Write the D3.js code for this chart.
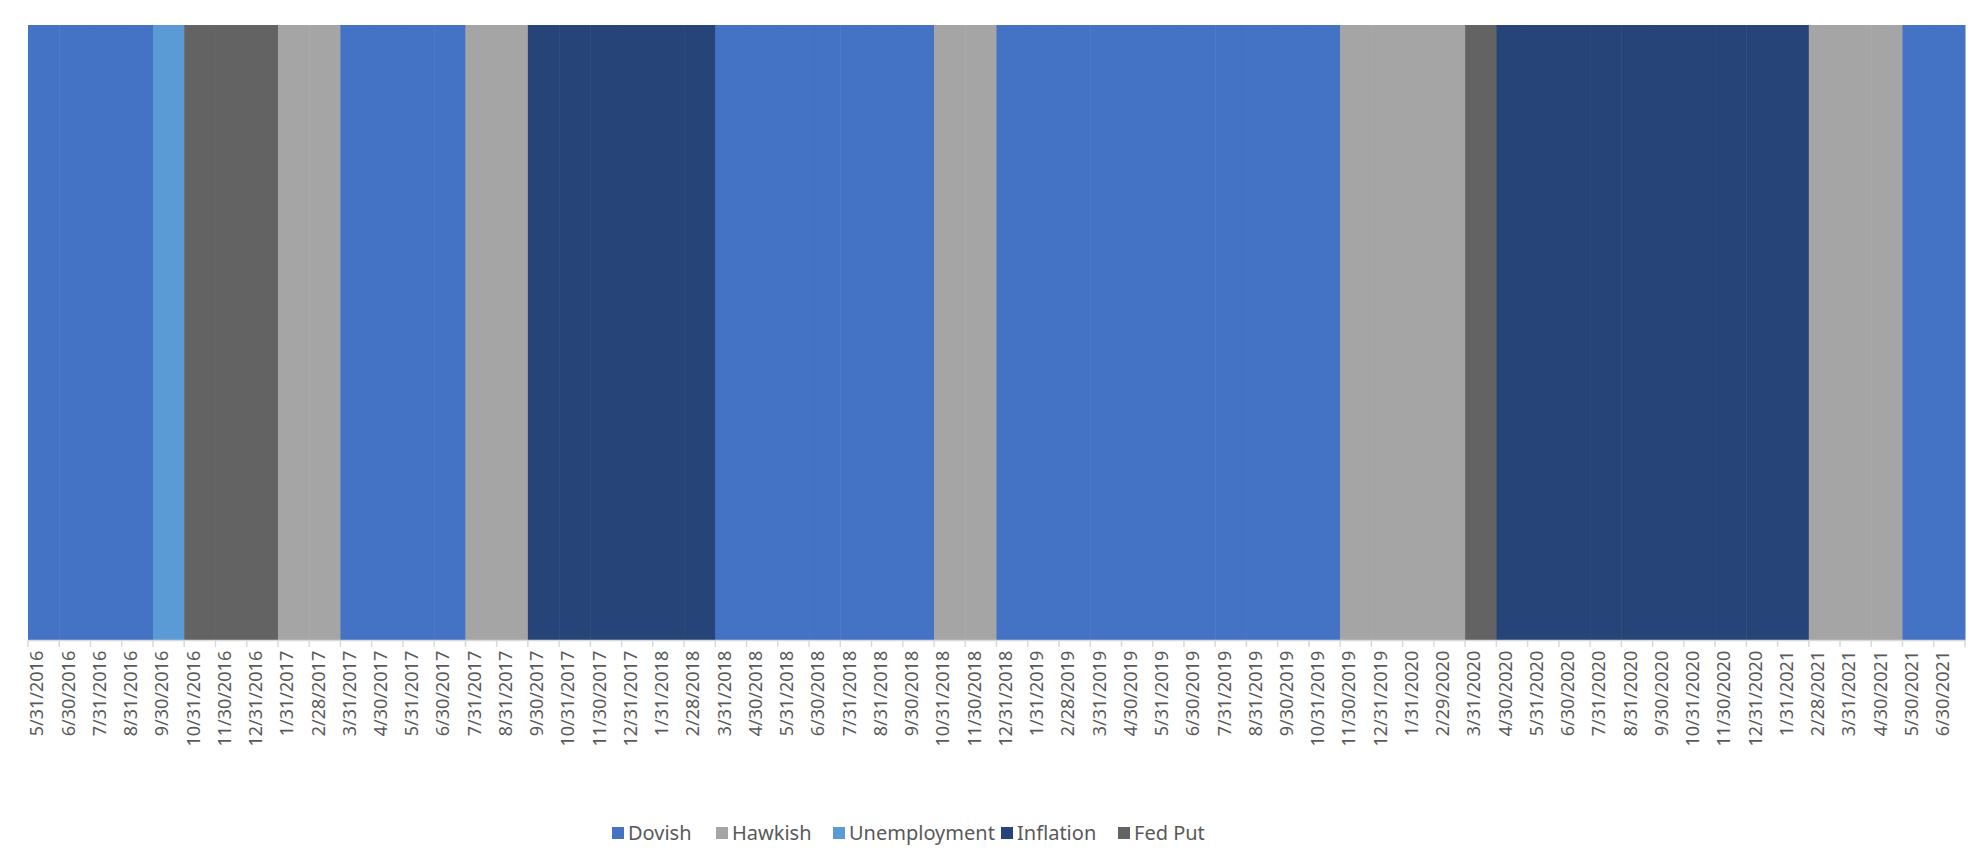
<!DOCTYPE html>
<html>
<head>
<meta charset="utf-8">
<script src="https://cdn.jsdelivr.net/npm/d3@7"></script>
<style>
  body { margin: 0; background: #fff; }
  text { font-family: "Noto Sans", "DejaVu Sans", sans-serif; fill: #595959; }
</style>
</head>
<body>
<script>
// month-end labels, as printed on the chart
var dates = ["5/31/2016","6/30/2016","7/31/2016","8/31/2016","9/30/2016","10/31/2016","11/30/2016","12/31/2016",
  "1/31/2017","2/28/2017","3/31/2017","4/30/2017","5/31/2017","6/30/2017","7/31/2017","8/31/2017","9/30/2017",
  "10/31/2017","11/30/2017","12/31/2017","1/31/2018","2/28/2018","3/31/2018","4/30/2018","5/31/2018","6/30/2018",
  "7/31/2018","8/31/2018","9/30/2018","10/31/2018","11/30/2018","12/31/2018","1/31/2019","2/28/2019","3/31/2019",
  "4/30/2019","5/31/2019","6/30/2019","7/31/2019","8/31/2019","9/30/2019","10/31/2019","11/30/2019","12/31/2019",
  "1/31/2020","2/29/2020","3/31/2020","4/30/2020","5/31/2020","6/30/2020","7/31/2020","8/31/2020","9/30/2020",
  "10/31/2020","11/30/2020","12/31/2020","1/31/2021","2/28/2021","3/31/2021","4/30/2021","5/30/2021","6/30/2021"];

var series = ["Dovish","Hawkish","Unemployment","Inflation","Fed Put"];
var colors = ["#4472C4","#A5A5A5","#5B9BD5","#264478","#636363"];

// regime per month (index into series)
var regime = [0,0,0,0, 2, 4,4,4, 1,1, 0,0,0,0, 1,1, 3,3,3,3,3,3, 0,0,0,0,0,0,0, 1,1,
  0,0,0,0,0,0,0,0,0,0,0, 1,1,1,1, 4, 3,3,3,3,3,3,3,3,3,3, 1,1,1, 0,0];

var W = 1984, H = 864;
var m = {left: 28, right: 19, top: 25, bottom: 224};

var svg = d3.select("body").append("svg").attr("width", W).attr("height", H);

var x = d3.scaleBand().domain(dates).range([m.left, W - m.right]).padding(0);
var y = d3.scaleLinear().domain([0, 1]).range([H - m.bottom, m.top]);
var color = d3.scaleOrdinal().domain(series).range(colors);

svg.append("g").selectAll("rect")
  .data(dates)
  .enter().append("rect")
  .attr("x", function (d) { return x(d); })
  .attr("width", x.bandwidth() + 0.5)
  .attr("y", y(1))
  .attr("height", y(0) - y(1))
  .attr("fill", function (d, i) { return color(series[regime[i]]); });

var xAxis = svg.append("g")
  .attr("transform", "translate(0," + y(0) + ")")
  .call(d3.axisBottom(x).tickSize(0).tickPadding(6));
xAxis.select(".domain").attr("stroke", "#d9d9d9").attr("stroke-width", 1.5);
xAxis.selectAll("text")
  .attr("transform", "rotate(-90)")
  .attr("text-anchor", "end")
  .attr("dx", "-0.6em")
  .attr("dy", "-0.35em")
  .style("font-size", "18px")
  .style("fill", "#595959");

// tick marks sit between categories
svg.append("g").selectAll("line")
  .data(dates.concat(["end"]))
  .enter().append("line")
  .attr("x1", function (d, i) { return m.left + i * x.step(); })
  .attr("x2", function (d, i) { return m.left + i * x.step(); })
  .attr("y1", y(0)).attr("y2", y(0) + 7)
  .attr("stroke", "#d9d9d9").attr("stroke-width", 1.5);

// legend
var legend = svg.append("g").attr("transform", "translate(0,833)");
var lx = 612;
var widths = [104, 117, 168, 117, 100];
series.forEach(function (s, i) {
  var g = legend.append("g").attr("transform", "translate(" + lx + ",0)");
  g.append("rect").attr("x", 0).attr("y", -6).attr("width", 12).attr("height", 12).attr("fill", colors[i]);
  g.append("text").attr("x", 16).attr("y", 7).style("font-size", "20px").text(s);
  lx += widths[i];
});
</script>
</body>
</html>
